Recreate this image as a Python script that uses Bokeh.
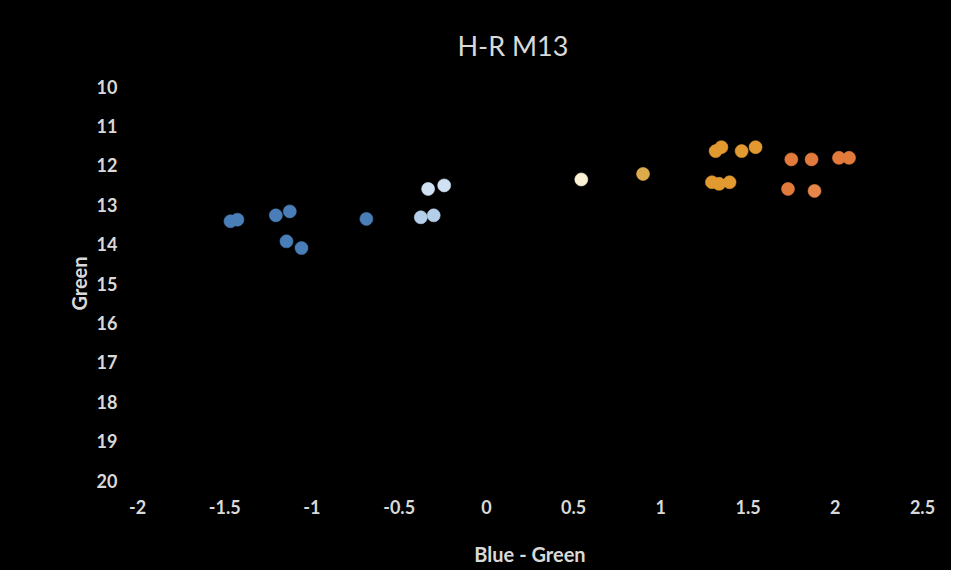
from bokeh.plotting import figure
from bokeh.models import Range1d, FixedTicker
from bokeh.embed import file_html
from bokeh.resources import INLINE

# ---- data ----
blue_x = [-1.467, -1.427, -1.207, -1.127, -1.146, -1.06, -0.688]
blue_y = [13.42, 13.38, 13.27, 13.17, 13.93, 14.10, 13.36]

ltblue_x = [-0.376, -0.302]
ltblue_y = [13.32, 13.27]

paleblue_x = [-0.334, -0.242]
paleblue_y = [12.60, 12.51]

white_x = [0.544]
white_y = [12.36]

yellow_x = [0.898]
yellow_y = [12.22]

orange_x = [1.314, 1.347, 1.463, 1.543, 1.293, 1.334, 1.394]
orange_y = [11.64, 11.54, 11.64, 11.54, 12.43, 12.47, 12.43]

red_x = [1.748, 1.864, 2.021, 2.079, 1.729]
red_y = [11.85, 11.85, 11.81, 11.81, 12.60]

red2_x = [1.881]
red2_y = [12.65]

x_ticks = [-2, -1.5, -1, -0.5, 0, 0.5, 1, 1.5, 2, 2.5]
x_tick_labels = ["-2", "-1.5", "-1", "-0.5", "0", "0.5", "1", "1.5", "2", "2.5"]
y_ticks = [10, 11, 12, 13, 14, 15, 16, 17, 18, 19, 20]
y_tick_labels = [str(v) for v in y_ticks]

TXT = "#d9d9d9"
FONT = "Lato"

p = figure(width=951, height=570, output_backend="svg", toolbar_location=None,
           x_range=Range1d(-2, 2.5), y_range=Range1d(20, 10),
           background_fill_color="black", border_fill_color="black",
           min_border_left=137, min_border_right=29,
           min_border_top=86, min_border_bottom=90,
           styles={"background-color": "black"})
p.outline_line_color = None
p.grid.visible = False

p.title.text = "H-R M13"
p.title.text_font = FONT
p.title.text_font_size = "27px"
p.title.text_font_style = "normal"
p.title.text_color = TXT
p.title.align = "left"
p.title.offset = 320
p.title.standoff = 50

for ax in (p.xaxis[0], p.yaxis[0]):
    ax.axis_line_color = None
    ax.major_tick_line_color = None
    ax.minor_tick_line_color = None
    ax.major_tick_out = 0
    ax.major_tick_in = 0
    ax.major_label_text_color = TXT
    ax.major_label_text_font = FONT
    ax.major_label_text_font_style = "bold"
    ax.major_label_text_font_size = "18px"
    ax.axis_label_text_font = FONT
    ax.axis_label_text_font_style = "bold"
    ax.axis_label_text_font_size = "20px"
    ax.axis_label_text_color = TXT

p.xaxis.ticker = FixedTicker(ticks=x_ticks)
p.xaxis.major_label_overrides = dict(zip(x_ticks, x_tick_labels))
p.xaxis.major_label_standoff = 19
p.xaxis.axis_label = "Blue - Green"
p.xaxis.axis_label_standoff = 25

p.yaxis.ticker = FixedTicker(ticks=y_ticks)
p.yaxis.major_label_overrides = dict(zip(y_ticks, y_tick_labels))
p.yaxis.major_label_standoff = 20
p.yaxis.axis_label = "Green"
p.yaxis.axis_label_standoff = 3

S = 13
series = [
    (blue_x, blue_y, "#4a7eb8"),
    (ltblue_x, ltblue_y, "#b4cfea"),
    (paleblue_x, paleblue_y, "#cfe1f2"),
    (white_x, white_y, "#fbf2d6"),
    (yellow_x, yellow_y, "#ddab4c"),
    (orange_x, orange_y, "#e29a30"),
    (red_x, red_y, "#e27a3c"),
    (red2_x, red2_y, "#e6874a"),
]
for xs, ys, c in series:
    p.scatter(xs, ys, size=S, fill_color=c, line_color=c, line_alpha=0.6)

open("out.html", "w").write(file_html(p, INLINE))
